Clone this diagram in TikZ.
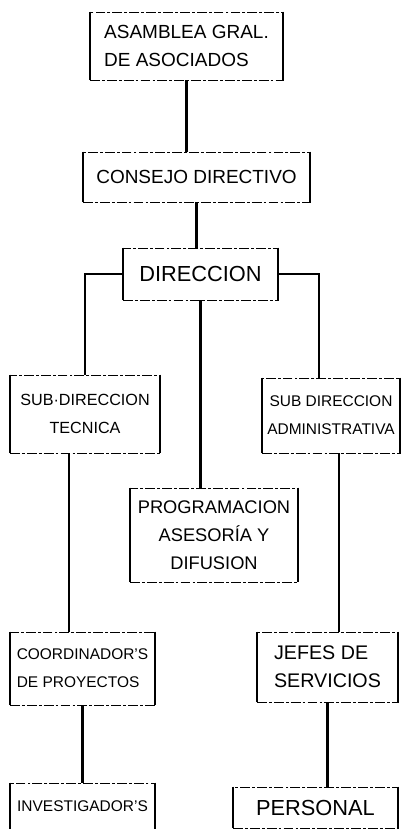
\documentclass[tikz,border=0pt]{standalone}
\usepackage{fontspec}
\setmainfont{Liberation Sans}
\begin{document}
\begin{tikzpicture}[x=0.025cm, y=-0.025cm]
    \tikzset{
      orgbox/.style={draw, line width=0.6pt, dash pattern=on 7pt off 1.5pt on 2pt off 1.5pt,
                     inner sep=0pt, align=center},
      boxside/.style={line width=1.4pt},
      link/.style={line width=1.8pt}
    }
    \useasboundingbox (0,0) rectangle (403,829);

    % Top of the chart
    \node[orgbox, align=left, minimum width=4.825cm, minimum height=1.7cm,
          font=\fontsize{13.5}{20}\selectfont] (asamblea) at (186.5,46) {ASAMBLEA GRAL.\\DE ASOCIADOS};
    \node[orgbox, minimum width=5.675cm, minimum height=1.25cm,
          font=\fontsize{13.5}{20}\selectfont] (consejo) at (196.5,177) {CONSEJO DIRECTIVO};
    \node[orgbox, minimum width=3.875cm, minimum height=1.3cm,
          font=\fontsize{15.5}{20}\selectfont] (direccion) at (200.5,274) {DIRECCION};

    % Sub-directions
    \node[orgbox, minimum width=3.75cm, minimum height=1.95cm,
          font=\fontsize{11.5}{20}\selectfont] (subtec) at (85,414) {SUB·DIRECCION\\TECNICA};
    \node[orgbox, minimum width=3.45cm, minimum height=1.875cm,
          font=\fontsize{11}{20}\selectfont] (subadm) at (331,415.5) {SUB DIRECCION\\ADMINISTRATIVA};
    \node[orgbox, minimum width=4.2cm, minimum height=2.35cm,
          font=\fontsize{13}{20}\selectfont] (prog) at (214,535) {PROGRAMACION\\ASESORÍA Y\\DIFUSION};

    % Lower levels
    \node[orgbox, align=left, minimum width=3.625cm, minimum height=1.825cm,
          font=\fontsize{11}{20}\selectfont] (coord) at (82.5,668.5) {COORDINADOR'S\\DE PROYECTOS};
    \node[orgbox, align=left, minimum width=3.525cm, minimum height=1.75cm,
          font=\fontsize{14}{20}\selectfont] (jefes) at (327.5,667) {JEFES DE\\SERVICIOS};
    \node[orgbox, minimum width=3.625cm, minimum height=1.15cm,
          font=\fontsize{11}{20}\selectfont] (invest) at (82.5,806) {INVESTIGADOR'S};
    \node[orgbox, minimum width=4.125cm, minimum height=1.025cm,
          font=\fontsize{15.5}{20}\selectfont] (personal) at (315.5,807.5) {PERSONAL};

    % Solid sides of the boxes
    \foreach \n in {asamblea,consejo,direccion,subtec,subadm,prog,coord,jefes,invest,personal}
      \draw[boxside] (\n.north west) -- (\n.south west) (\n.north east) -- (\n.south east);

    % Connectors
    \draw[link] (asamblea.south) -- (asamblea.south |- consejo.north);
    \draw[link] (consejo.south) -- (consejo.south |- direccion.north);
    \draw[link] (direccion.west) -| (subtec.north);
    \draw[link] (direccion.east) -| ([xshift=-0.3cm]subadm.north);
    \draw[link] (direccion.south) -- (direccion.south |- prog.north);
    \draw[link] ([xshift=-0.4cm]subtec.south) -- ([xshift=-0.4cm]subtec.south |- coord.north);
    \draw[link] ([xshift=0.2cm]subadm.south) -- ([xshift=0.2cm]subadm.south |- jefes.north);
    \draw[link] (coord.south) -- (coord.south |- invest.north);
    \draw[link] (jefes.south) -- (jefes.south |- personal.north);
\end{tikzpicture}
\end{document}
